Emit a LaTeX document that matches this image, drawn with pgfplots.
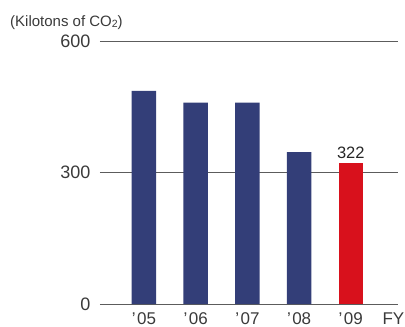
\documentclass[border=0pt]{standalone}
\usepackage{fontspec}
\setmainfont{Liberation Sans}
\usepackage{pgfplots}
\pgfplotsset{compat=1.18}

\definecolor{barblue}{HTML}{333E78}
\definecolor{barred}{HTML}{D8111C}
\definecolor{txt}{HTML}{3A3A3A}
\definecolor{rule}{HTML}{5C5C5C}

\newcommand{\fy}[1]{’\kern1.5pt#1}

\begin{document}
\begin{tikzpicture}[x=1pt,y=1pt]
\useasboundingbox (0,0) rectangle (405,327);
\begin{axis}[
  at={(100pt,23pt)}, anchor=south west,
  scale only axis, width=298pt, height=262.5pt,
  xmin=-0.851, xmax=4.913, ymin=0, ymax=600,
  axis line style={draw=none},
  major tick length=0pt,
  ytick={0,300,600},
  ymajorgrids, grid style={rule, line width=0.9pt},
  xtick={0,1,2,3,4},
  xticklabels={\fy{05},\fy{06},\fy{07},\fy{08},\fy{09}},
  /pgf/number format/assume math mode=true,
  yticklabel style={font=\fontsize{18}{18}\selectfont, text=txt,
    inner sep=0pt, xshift=-9.5pt},
  xticklabel style={font=\fontsize{17}{17}\selectfont, text=txt,
    inner sep=0pt, anchor=north, yshift=-8.5pt},
  ybar, bar width=24.5pt, bar shift=0pt,
]
\addplot[fill=barblue, draw=none] coordinates {(0,487) (1,460) (2,460) (3,347)};
\addplot[fill=barred, draw=none,
  nodes near coords,
  every node near coord/.append style={font=\fontsize{16.5}{16.5}\selectfont,
    text=black!85, inner sep=0pt, anchor=south, yshift=4.5pt},
  /pgf/number format/assume math mode=true]
  coordinates {(4,322)};
\end{axis}
% fiscal-year marker at the end of the category axis
\node[anchor=north east, inner sep=0pt, text=txt,
  font=\fontsize{17}{17}\selectfont] at (404.5,14.5) {FY};
\node[anchor=north west, inner sep=0pt, text=txt,
  font=\fontsize{15}{15}\selectfont]
  at (10,311.5) {(Kilotons of CO\raisebox{-0.5pt}{\fontsize{10.5}{10.5}\selectfont 2})};
\end{tikzpicture}
\end{document}
